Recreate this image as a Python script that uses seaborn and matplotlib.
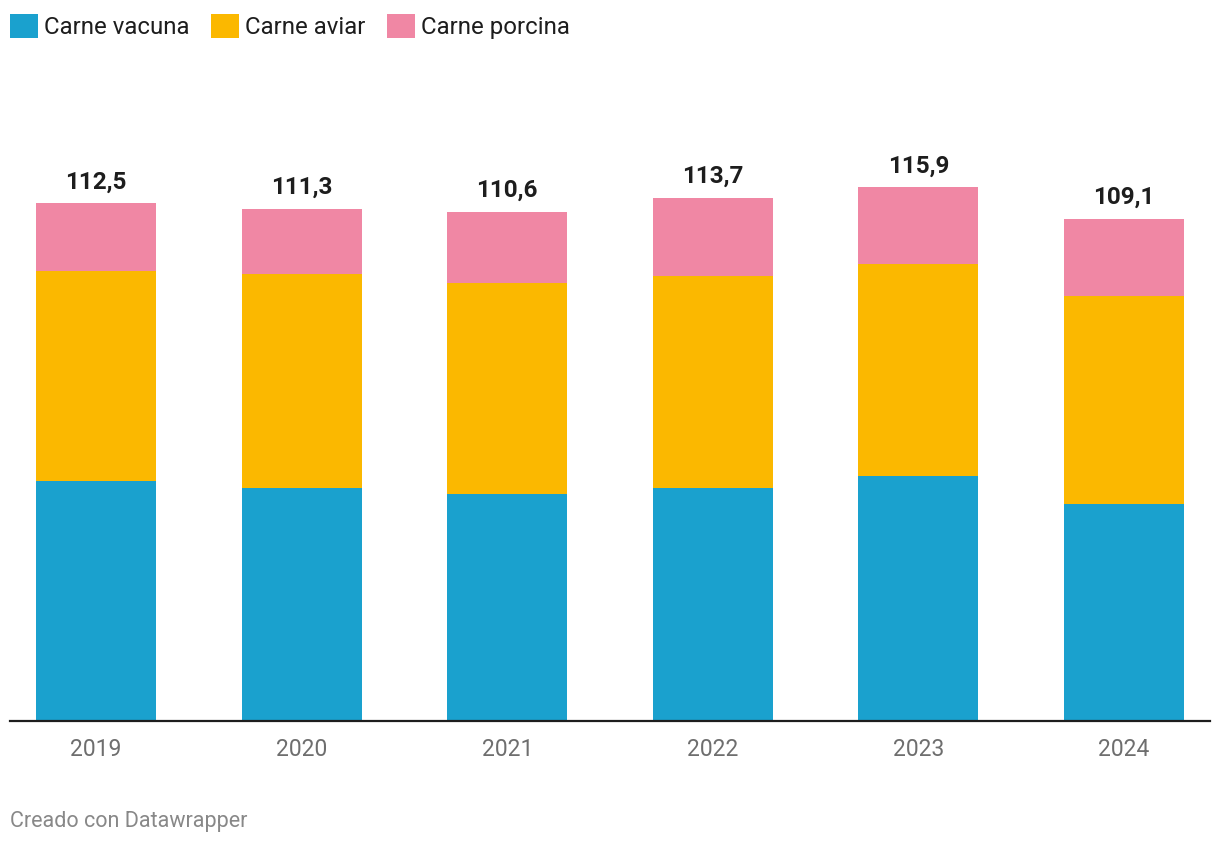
import matplotlib
matplotlib.use("Agg")
import matplotlib.pyplot as plt
import seaborn as sns
import pandas as pd
from matplotlib.patches import Patch

years = ["2019", "2020", "2021", "2022", "2023", "2024"]
vacuna = [52.1, 50.6, 49.3, 50.6, 53.2, 47.1]
aviar = [45.6, 46.5, 45.8, 46.1, 46.1, 45.2]
porcina = [14.8, 14.2, 15.5, 17.0, 16.6, 16.8]
totals = [112.5, 111.3, 110.6, 113.7, 115.9, 109.1]
total_labels = ["112,5", "111,3", "110,6", "113,7", "115,9", "109,1"]

series_names = ["Carne vacuna", "Carne aviar", "Carne porcina"]
colors = ["#1aa1ce", "#fbb800", "#f087a4"]

sns.set_theme(style="white")
plt.rcParams["font.family"] = ["Roboto", "DejaVu Sans"]

df = pd.DataFrame({"year": years, "vacuna": vacuna, "aviar": aviar, "porcina": porcina})
df["b2"] = df["vacuna"]
df["b3"] = df["vacuna"] + df["aviar"]

fig = plt.figure(figsize=(12.2, 8.46), dpi=100)
ax = fig.add_axes([10 / 1220, 125 / 846, 1200 / 1220, 575.5 / 846])

w = 0.584
sns.barplot(data=df, x="year", y="vacuna", color=colors[0], width=w, saturation=1, ax=ax, linewidth=0)
sns.barplot(data=df, x="year", y="aviar", bottom=df["b2"], color=colors[1], width=w, saturation=1, ax=ax, linewidth=0)
sns.barplot(data=df, x="year", y="porcina", bottom=df["b3"], color=colors[2], width=w, saturation=1, ax=ax, linewidth=0)

for i, (t, lab) in enumerate(zip(totals, total_labels)):
    ax.annotate(lab, xy=(i, t), xytext=(0, 7), textcoords="offset points",
                ha="center", va="bottom", fontsize=17.5, fontweight="bold", color="#1d1d1d")

ax.set_xlim(-0.418, 5.418)
ax.set_ylim(0, 125)
ax.set_xlabel("")
ax.set_ylabel("")
ax.set_yticks([])
for s in ["top", "right", "left"]:
    ax.spines[s].set_visible(False)
ax.spines["bottom"].set_color("#1d1d1d")
ax.spines["bottom"].set_linewidth(1.6)
ax.tick_params(axis="x", length=0, pad=12, labelsize=16.5, labelcolor="#6e6e6e")

handles = [Patch(facecolor=c, edgecolor="none") for c in colors]
fig.legend(handles, series_names, loc="upper left", bbox_to_anchor=(10 / 1220, 1 - 14 / 846),
           ncol=3, frameon=False, fontsize=17.3, handlelength=1.17, handleheight=1.17,
           handletextpad=0.25, columnspacing=0.9, borderaxespad=0.0, borderpad=0.0,
           labelcolor="#1d1d1d")

fig.text(10 / 1220, 1 - 821 / 846, "Creado con Datawrapper", ha="left", va="center",
         fontsize=15.5, color="#888888")

fig.savefig("out.png", dpi=100)
